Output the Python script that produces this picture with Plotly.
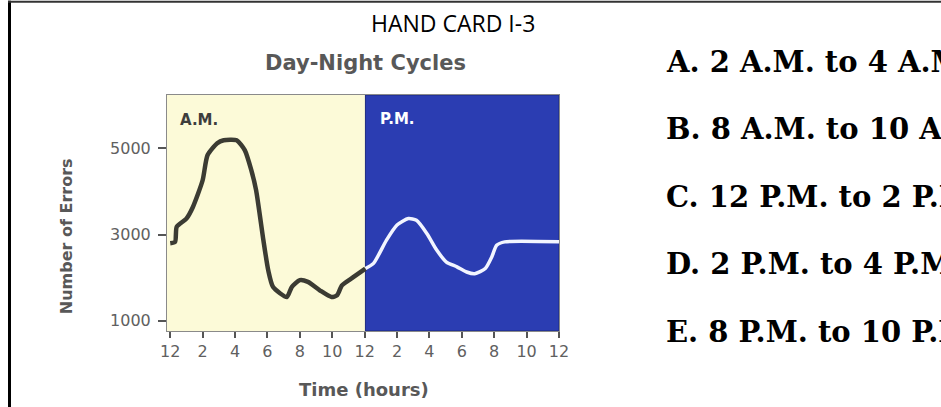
import plotly.graph_objects as go

# ---- data ----
am_hours = [0.0, 0.3, 0.4, 1.0, 1.4, 2.0, 2.3, 2.9, 3.3, 4.1, 4.6, 5.0, 5.3, 5.75, 6.05, 6.35,
            7.2, 7.5, 8.0, 8.5, 9.25, 9.95, 10.3, 10.6, 11.3, 12.05]
am_errors = [2800, 2830, 3180, 3370, 3640, 4260, 4840, 5120, 5190, 5190, 4960, 4500, 4030, 2870,
             2170, 1780, 1550, 1780, 1940, 1900, 1700, 1550, 1590, 1820, 2010, 2210]
pm_hours = [12.05, 12.55, 13.35, 14.0, 14.7, 15.2, 15.85, 16.45, 17.05, 17.7, 18.3, 18.8, 19.45,
            19.85, 20.15, 20.65, 24.0]
pm_errors = [2210, 2330, 2870, 3220, 3370, 3330, 3020, 2640, 2360, 2250, 2130, 2090, 2210, 2480,
             2750, 2830, 2830]
x_tickvals = [0, 2, 4, 6, 8, 10, 12, 14, 16, 18, 20, 22, 24]
x_ticktext = ["12", "2", "4", "6", "8", "10", "12", "2", "4", "6", "8", "10", "12"]
y_tickvals = [1000, 3000, 5000]
answers = ["A. 2 A.M. to 4 A.M.", "B. 8 A.M. to 10 A.M.", "C. 12 P.M. to 2 P.M.",
           "D. 2 P.M. to 4 P.M.", "E. 8 P.M. to 10 P.M."]

# ---- layout geometry (pixels) ----
W_FIG, H_FIG = 941, 407
L, R, T, B = 167, 559, 95, 330.6
PW, PH = R - L, B - T


def px(x):
    return (x - L) / PW


def py(y):
    return (B - y) / PH


YELLOW = "#fcfad8"
BLUE = "#2b3db2"
GRAY = "#585858"

fig = go.Figure()
fig.add_trace(go.Scatter(x=am_hours, y=am_errors, mode="lines",
                         line=dict(color="#3b3b33", width=4.5, shape="spline", smoothing=0.6),
                         hoverinfo="skip", showlegend=False))
fig.add_trace(go.Scatter(x=pm_hours, y=pm_errors, mode="lines",
                         line=dict(color="#f2f5ff", width=3.5, shape="spline", smoothing=0.6),
                         hoverinfo="skip", showlegend=False))

shapes = [
    dict(type="rect", xref="x", yref="paper", x0=12.05, x1=24, y0=0, y1=1,
         fillcolor=BLUE, line=dict(color="#1c2a80", width=1), layer="below"),
    # page frame
    dict(type="line", xref="paper", yref="paper", x0=px(9.5), x1=px(9.5), y0=py(1), y1=py(410),
         line=dict(color="black", width=3)),
    dict(type="line", xref="paper", yref="paper", x0=px(8), x1=px(945), y0=py(2), y1=py(2),
         line=dict(color="#333333", width=2)),
]

ann = [
    dict(text="HAND CARD I-3", x=px(453), y=py(23), xref="paper", yref="paper",
         showarrow=False, xanchor="center", yanchor="middle",
         font=dict(family="Open Sans", size=23, color="black")),
    dict(text="<b>Day-Night Cycles</b>", x=px(365), y=py(63), xref="paper", yref="paper",
         showarrow=False, xanchor="center", yanchor="middle",
         font=dict(family="DejaVu Sans", size=21, color=GRAY)),
    dict(text="<b>A.M.</b>", x=px(178), y=py(120), xref="paper", yref="paper",
         showarrow=False, xanchor="left", yanchor="middle",
         font=dict(family="DejaVu Sans", size=15, color="#3d3d3d")),
    dict(text="<b>P.M.</b>", x=px(378), y=py(119), xref="paper", yref="paper",
         showarrow=False, xanchor="left", yanchor="middle",
         font=dict(family="DejaVu Sans", size=15, color="white")),
    dict(text="<b>Time (hours)</b>", x=px(364), y=py(389), xref="paper", yref="paper",
         showarrow=False, xanchor="center", yanchor="middle",
         font=dict(family="DejaVu Sans", size=18, color=GRAY)),
    dict(text="<b>Number of Errors</b>", x=px(66), y=py(236), xref="paper", yref="paper",
         showarrow=False, xanchor="center", yanchor="middle", textangle=-90,
         font=dict(family="DejaVu Sans", size=16, color=GRAY)),
]
ans_y = [62, 129, 197, 264, 332]
for txt, yy in zip(answers, ans_y):
    ann.append(dict(text="<b>" + txt + "</b>", x=px(664), y=py(yy), xref="paper", yref="paper",
                    showarrow=False, xanchor="left", yanchor="middle",
                    font=dict(family="DejaVu Serif", size=29, color="black")))

fig.update_layout(
    width=W_FIG, height=H_FIG,
    margin=dict(l=L, r=W_FIG - R, t=T, b=H_FIG - B, autoexpand=False),
    paper_bgcolor="white", plot_bgcolor=YELLOW,
    shapes=shapes, annotations=ann,
    xaxis=dict(range=[-0.2, 24], tickvals=x_tickvals, ticktext=x_ticktext,
               showgrid=False, zeroline=False, showline=True, linecolor="#8a8a8a", linewidth=1,
               mirror=True, ticks="outside", ticklen=6, tickwidth=2, tickcolor="#555",
               tickfont=dict(family="DejaVu Sans", size=16, color="#606060")),
    yaxis=dict(range=[760, 6240], tickvals=y_tickvals, showgrid=False, zeroline=False,
               showline=True, linecolor="#8a8a8a", linewidth=1, mirror=True,
               ticks="outside", ticklen=8, tickwidth=1.5, tickcolor="#555",
               ticklabelstandoff=4,
               tickfont=dict(family="DejaVu Sans", size=16, color="#606060")),
)

fig.write_html("out.html", config={"displayModeBar": False},
               post_script="document.body.style.margin='0px';")
